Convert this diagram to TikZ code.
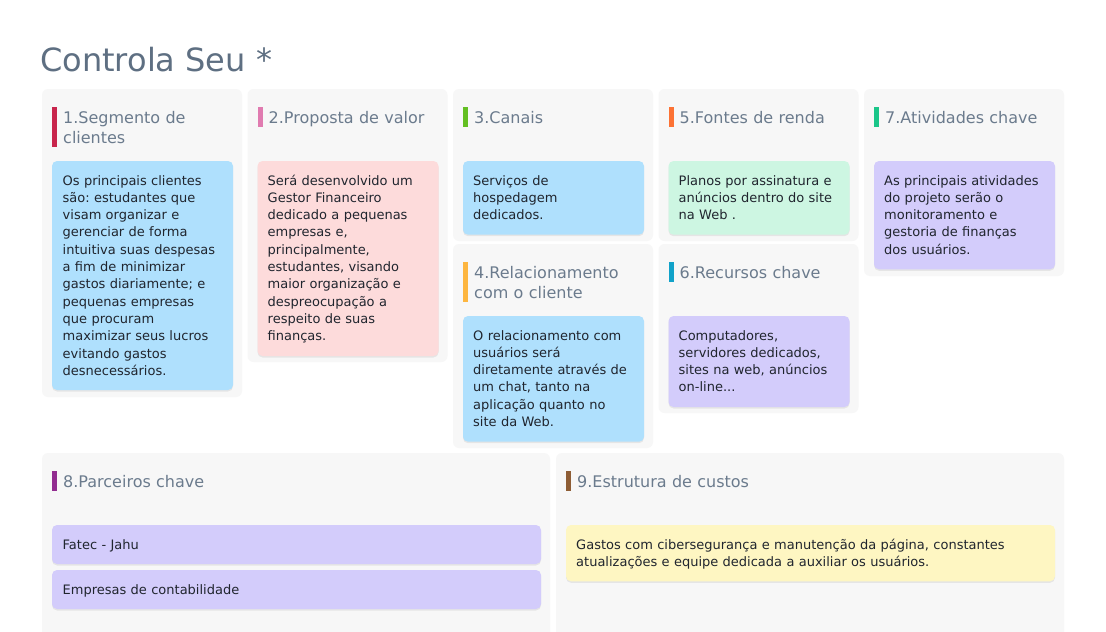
\documentclass[tikz,border=0pt]{standalone}
\usepackage{fontspec}
\setmainfont{DejaVu Sans}
\frenchspacing
\definecolor{panelgray}{HTML}{F7F7F7}
\definecolor{titlecol}{HTML}{5E6F82}
\definecolor{headcol}{HTML}{6B7B8D}
\definecolor{bodycol}{HTML}{20252E}
\definecolor{cblue}{HTML}{AFE0FD}
\definecolor{cpink}{HTML}{FDDBDB}
\definecolor{cgreen}{HTML}{CDF6E2}
\definecolor{cpurple}{HTML}{D3CCFB}
\definecolor{cyellow}{HTML}{FEF6C2}
\definecolor{bara}{HTML}{C8254C}
\definecolor{barb}{HTML}{E07BB0}
\definecolor{barc}{HTML}{63BF22}
\definecolor{bard}{HTML}{FDB640}
\definecolor{bare}{HTML}{FC7234}
\definecolor{barf}{HTML}{11A2C9}
\definecolor{barg}{HTML}{1AC689}
\definecolor{barh}{HTML}{922C90}
\definecolor{bari}{HTML}{8E5D35}
\tikzset{
  panelbox/.style={fill=panelgray, rounded corners=6pt},
  cardbox/.style={rounded corners=5pt},
  cardshadow/.style={fill=black, opacity=0.07, rounded corners=5pt},
  headtext/.style={anchor=base west, inner sep=0pt, text width=190pt, align=left,
    font=\fontsize{16}{20}\selectfont, text=headcol},
  bodytext/.style={anchor=base west, inner sep=0pt, text width=480pt, align=left,
    font=\fontsize{13}{17.33}\selectfont, text=bodycol},
  titletext/.style={anchor=base west, inner sep=0pt, font=\fontsize{32}{38}\selectfont, text=titlecol}
}
\newcommand{\mycard}[5]{%
  \fill[cardshadow] (#1,#2+1.5) rectangle (#3,#4+1.5);
  \fill[cardbox,fill=#5] (#1,#2) rectangle (#3,#4);}
\begin{document}
\begin{tikzpicture}[x=1pt,y=-1pt]
\useasboundingbox (0,0) rectangle (1106,632);
\clip (0,0) rectangle (1106,632);
\fill[white] (0,0) rectangle (1106,632);

\node[titletext] (title) at (40,71.5) {Controla Seu *};

% panels
\fill[panelbox] (42,89) rectangle (242,397);
\fill[panelbox] (247.5,89) rectangle (447.5,362);
\fill[panelbox] (453,89) rectangle (653,241);
\fill[panelbox] (453,244) rectangle (653,448);
\fill[panelbox] (658.5,89) rectangle (858.5,241);
\fill[panelbox] (658.5,244) rectangle (858.5,413);
\fill[panelbox] (864,89) rectangle (1064,276);
\fill[panelbox] (42,453) rectangle (550,660);
\fill[panelbox] (556,453) rectangle (1064,660);

% bars
\fill[bara] (52,107) rectangle (57,147);
\fill[barb] (257.5,107) rectangle (262.5,127);
\fill[barc] (463,107) rectangle (468,127);
\fill[bard] (463,262) rectangle (468,302);
\fill[bare] (668.5,107) rectangle (673.5,127);
\fill[barf] (668.5,262) rectangle (673.5,282);
\fill[barg] (874,107) rectangle (879,127);
\fill[barh] (52,471) rectangle (57,491);
\fill[bari] (566,471) rectangle (571,491);

% headings
\node[headtext] (h1) at (63,123.5) {1.Segmento de\\clientes};
\node[headtext] (h2) at (268.5,123.5) {2.Proposta de valor};
\node[headtext] (h3) at (474,123.5) {3.Canais};
\node[headtext] (h4) at (474,278.5) {4.Relacionamento\\com o cliente};
\node[headtext] (h5) at (679.5,123.5) {5.Fontes de renda};
\node[headtext] (h6) at (679.5,278.5) {6.Recursos chave};
\node[headtext] (h7) at (885,123.5) {7.Atividades chave};
\node[headtext] (h8) at (63,487.5) {8.Parceiros chave};
\node[headtext] (h9) at (577,487.5) {9.Estrutura de custos};

% cards
\mycard{52}{161}{233}{390}{cblue}
\mycard{257.5}{161}{438.5}{356}{cpink}
\mycard{463}{161}{644}{234.7}{cblue}
\mycard{463}{316}{644}{441.7}{cblue}
\mycard{668.5}{161}{849.5}{234.7}{cgreen}
\mycard{668.5}{316}{849.5}{407}{cpurple}
\mycard{874}{161}{1055}{269.3}{cpurple}
\mycard{52}{525}{541}{564}{cpurple}
\mycard{52}{570}{541}{609}{cpurple}
\mycard{566}{525}{1055}{581.3}{cyellow}

% card texts
\node[bodytext] (t1) at (62.5,185) {Os principais clientes\\são: estudantes que\\visam organizar e\\gerenciar de forma\\intuitiva suas despesas\\a fim de minimizar\\gastos diariamente; e\\pequenas empresas\\que procuram\\maximizar seus lucros\\evitando gastos\\desnecessários.};
\node[bodytext] (t2) at (267.5,185) {Será desenvolvido um\\Gestor Financeiro\\dedicado a pequenas\\empresas e,\\principalmente,\\estudantes, visando\\maior organização e\\despreocupação a\\respeito de suas\\finanças.};
\node[bodytext] (t3) at (473,185) {Serviços de\\hospedagem\\dedicados.};
\node[bodytext] (t4) at (473,340) {O relacionamento com\\usuários será\\diretamente através de\\um chat, tanto na\\aplicação quanto no\\site da Web.};
\node[bodytext] (t5) at (678.5,185) {Planos por assinatura e\\anúncios dentro do site\\na Web .};
\node[bodytext] (t6) at (678.5,340) {Computadores,\\servidores dedicados,\\sites na web, anúncios\\on-line...};
\node[bodytext] (t7) at (884,185) {As principais atividades\\do projeto serão o\\monitoramento e\\gestoria de finanças\\dos usuários.};
\node[bodytext] (t8a) at (62.5,549) {Fatec - Jahu};
\node[bodytext] (t8b) at (62.5,594) {Empresas de contabilidade};
\node[bodytext] (t9) at (576,549) {Gastos com cibersegurança e manutenção da página, constantes\\atualizações e equipe dedicada a auxiliar os usuários.};
\end{tikzpicture}
\end{document}
